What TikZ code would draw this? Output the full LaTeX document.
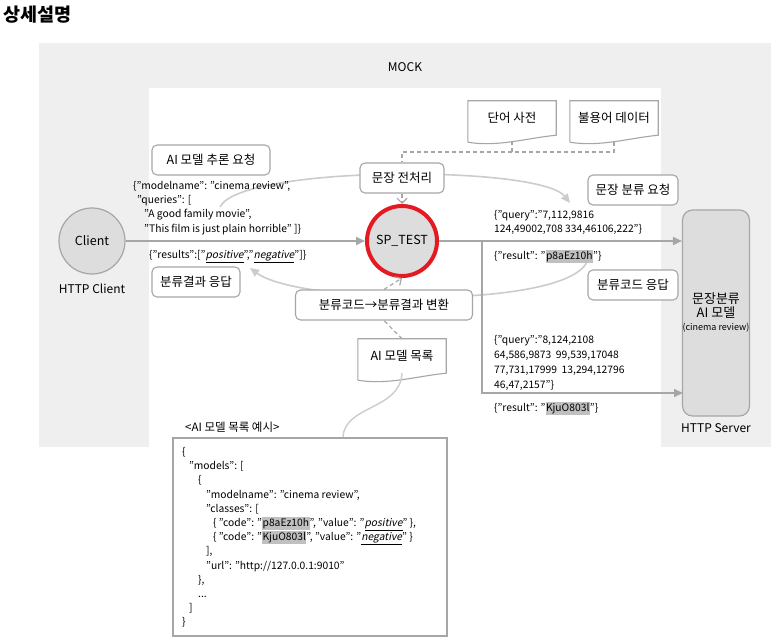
\documentclass[tikz,border=0pt]{standalone}
\usepackage{fontspec}
\setmainfont{Noto Sans CJK KR}[AutoFakeSlant=0.2]
\usetikzlibrary{positioning, arrows.meta, calc}
\definecolor{mockgray}{RGB}{239,239,239}
\definecolor{boxgray}{RGB}{221,221,221}
\definecolor{edgegray}{RGB}{166,166,166}
\definecolor{curvegray}{RGB}{204,204,204}
\definecolor{markgray}{RGB}{192,192,192}
\definecolor{alertred}{RGB}{228,26,34}

\newcommand{\lblfont}{\fontsize{12.5}{15}\selectfont}
\newcommand{\capfont}{\fontsize{12}{14}\selectfont}
\newcommand{\codefont}{\fontsize{10.3}{14.2}\selectfont}
\newcommand{\hlcode}[1]{{\setlength{\fboxsep}{0.5pt}\colorbox{markgray}{\rule[-3pt]{0pt}{12pt}#1}}}
\newcommand{\emval}[1]{\underline{\textit{#1}}}
\newcommand{\docwave}[1]{\draw[docline] ([yshift=-7pt]#1.south west) -- (#1.north west) -- (#1.north east) -- (#1.south east)
  .. controls ([xshift=-30pt,yshift=-3pt]#1.south east) and ([xshift=30pt,yshift=-12pt]#1.south west) .. ([yshift=-7pt]#1.south west);}

\begin{document}
\begin{tikzpicture}[x=1pt, y=-1pt,
    lbl/.style={draw=edgegray, fill=white, rounded corners=5pt, line width=1.1pt, minimum height=30pt, inner sep=0pt, font=\lblfont},
    docbox/.style={minimum width=88pt, minimum height=34pt, inner sep=0pt, font=\lblfont},
    docline/.style={draw=edgegray, line width=1.1pt},
    flow/.style={draw=edgegray, line width=1.6pt, -{Triangle[length=9pt, width=8pt]}},
    arcflow/.style={draw=curvegray, line width=1.6pt, -{Triangle[length=9pt, width=8pt]}},
    feed/.style={draw=edgegray, line width=1.2pt, dash pattern=on 4pt off 3pt},
    json/.style={font=\codefont, align=left, inner sep=0pt, anchor=base west}]
    \useasboundingbox (0,0) rectangle (782,644);

    % MOCK area
    \fill[mockgray] (39,43) rectangle (771,447);
    \fill[white] (149,88) rectangle (661,447);
    \node[font=\fontsize{18.5}{21}\selectfont\bfseries, anchor=west, inner sep=0pt] (title) at (3,15) {상세설명};
    \node[font=\capfont] (mock) at (405,67) {MOCK};

    % curved flows (behind the boxes)
    \coordinate (reqfrom) at (220,207);
    \coordinate (reqto) at (570,203);
    \draw[arcflow] (reqfrom) .. controls (240,165) and (540,165) .. (reqto);
    \coordinate (resfrom) at (588,259);
    \coordinate (resto) at (250,268);
    \draw[arcflow] (resfrom) .. controls (575,310) and (300,305) .. (resto);

    % client, SP and server
    \node[circle, draw=edgegray, fill=boxgray, line width=1.2pt, minimum size=66pt, font=\lblfont] (client) at (92,241) {Client};
    \node[font=\capfont] (clientcap) at (92,289) {HTTP Client};
    \node[circle, draw=alertred, fill=boxgray, line width=4pt, minimum size=70pt, font=\lblfont] (sp) at (402,241) {SP\_TEST};
    \node[draw=edgegray, fill=boxgray, rounded corners=10pt, line width=1.2pt, minimum width=66pt, minimum height=206pt,
          align=center, inner sep=0pt, font=\fontsize{13}{13.5}\selectfont] (server) at (716,313)
          {문장분류\\AI 모델\\{\fontsize{9}{14}\selectfont (cinema review)}};
    \node[font=\capfont] (servercap) at (716,428) {HTTP Server};

    % step labels
    \node[lbl, minimum width=118pt] (askinfer) at (211,160) {AI 모델 추론 요청};
    \node[lbl, minimum width=84pt] (prep) at (402,178) {문장 전처리};
    \node[lbl, minimum width=90pt] (askclass) at (633,190) {문장 분류 요청};
    \node[lbl, minimum width=90pt] (codeback) at (633,285) {분류코드 응답};
    \node[lbl, minimum width=88pt] (resultback) at (196,282) {분류결과 응답};
    \node[lbl, minimum width=177pt] (convert) at (384,305) {분류코드→분류결과 변환};

    % data documents
    \node[docbox] (worddict) at (512,118) {단어 사전};
    \docwave{worddict}
    \node[docbox] (stopdata) at (614,118) {불용어 데이터};
    \docwave{stopdata}
    \node[docbox] (modellist) at (402,356) {AI 모델 목록};
    \docwave{modellist}

    % dashed feeds
    \coordinate (feedjoin) at (402,152);
    \draw[feed] ([yshift=-7pt]stopdata.south) |- (feedjoin) -- (prep.north);
    \draw[feed] ([yshift=-6pt]worddict.south) -- (worddict.south |- feedjoin);
    \draw[feed, -{Straight Barb[length=5pt, width=10pt]}] (prep.south) -- (sp.north);
    \draw[feed, -{Straight Barb[length=5pt, width=10pt]}] (convert.north) -- (sp.south);
    \draw[feed] (modellist.north) -- (convert.south);

    % straight flows
    \draw[flow] (client) -- (sp);
    \draw[flow] (sp) -- (sp -| server.west);
    \coordinate (split) at (482,241);
    \coordinate (lowin) at (683,393);
    \draw[flow] (split) |- (lowin);

    % payloads (base = last line)
    \node[json] (reqjson) at (133,232.1) {\{"modelname": "cinema review",\\
      \hspace*{4pt}"queries": [\\
      \hspace*{11pt}"A good family movie",\\
      \hspace*{11pt}"This film is just plain horrible" ]\}};
    \node[json] (resjson) at (149,258.5) {\{"results":["\emval{positive}","\emval{negative}"]\}};
    \node[json] (queryone) at (494,232.7) {\{"query":"7,112,9816\\124,49002,708 334,46106,222"\}};
    \node[json] (resultone) at (494,259.5) {\{"result": "\hlcode{p8aEz10h}"\}};
    \node[json, font=\fontsize{10.3}{15}\selectfont] (querytwo) at (494,388.5) {\{"query":"8,124,2108\\
      64,586,9873\ \ 99,539,17048\\
      77,731,17999\ \ 13,294,12796\\
      46,47,2157"\}};
    \node[json] (resulttwo) at (494,411.5) {\{"result": "\hlcode{KjuO803l}"\}};

    % model list example
    \node[font=\fontsize{11.5}{14}\selectfont, anchor=west, inner sep=0pt] (extitle) at (185,427) {<AI 모델 목록 예시>};
    \node[draw=edgegray, line width=2pt, minimum width=274pt, minimum height=198pt, inner sep=0pt] (exbox) at (310,537) {};
    \draw[draw=curvegray, line width=1.4pt] (modellist.south) .. controls (400,410) and (345,405) .. (exbox.north -| 343,0);
    \node[json] (exjson) at (182,625.9) {\{\\
      \hspace*{7pt}"models": [\\
      \hspace*{16pt}\{\\
      \hspace*{24pt}"modelname": "cinema review",\\
      \hspace*{24pt}"classes": [\\
      \hspace*{31pt}\{ "code": "\hlcode{p8aEz10h}", "value": "\emval{positive}" \},\\
      \hspace*{31pt}\{ "code": "\hlcode{KjuO803l}", "value": "\emval{negative}" \}\\
      \hspace*{24pt}],\\
      \hspace*{24pt}"url": "http://127.0.0.1:9010"\\
      \hspace*{16pt}\},\\
      \hspace*{16pt}...\\
      \hspace*{7pt}]\\
      \}};
\end{tikzpicture}
\end{document}
